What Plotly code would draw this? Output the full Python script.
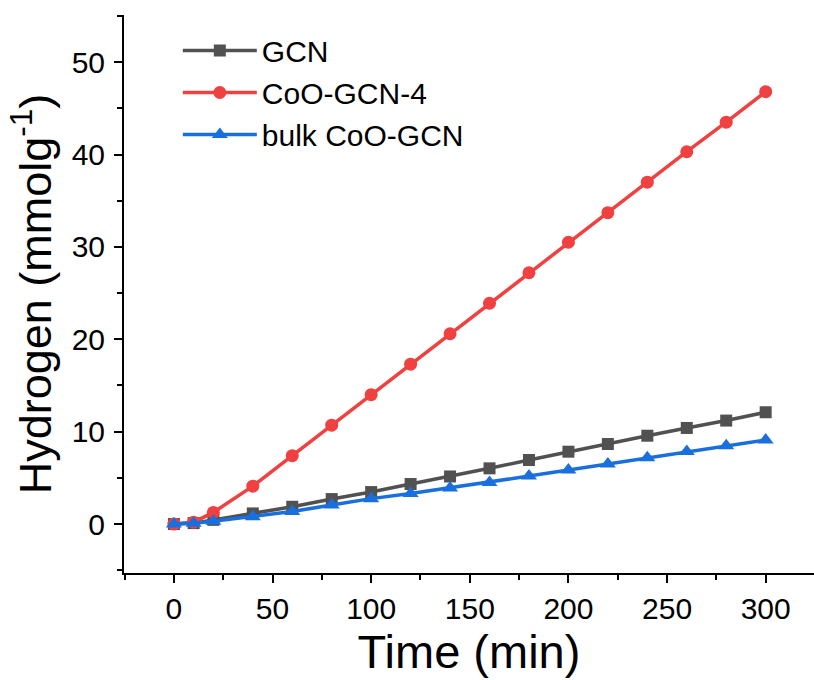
import plotly.graph_objects as go

time_min = [0, 10, 20, 40, 60, 80, 100, 120, 140, 160, 180, 200, 220, 240, 260, 280, 300]
gcn = [0, 0.1, 0.45, 1.15, 1.87, 2.7, 3.46, 4.33, 5.15, 6.03, 6.93, 7.83, 8.66, 9.56, 10.4, 11.2, 12.1]
coo_gcn4 = [0, 0.2, 1.26, 4.1, 7.4, 10.7, 14.0, 17.3, 20.6, 23.9, 27.2, 30.5, 33.7, 37.0, 40.3, 43.5, 46.8]
bulk_coo_gcn = [0, 0.08, 0.3, 0.8, 1.35, 2.05, 2.75, 3.3, 3.9, 4.5, 5.19, 5.84, 6.5, 7.18, 7.85, 8.47, 9.09]

x_ticks = [0, 50, 100, 150, 200, 250, 300]
y_ticks = [0, 10, 20, 30, 40, 50]

series = [
    ("GCN", gcn, "#515151", "square", 12),
    ("CoO-GCN-4", coo_gcn4, "#F14040", "circle", 13),
    ("bulk CoO-GCN", bulk_coo_gcn, "#1A6FDF", "triangle-up", 14),
]

fig = go.Figure()
for name, vals, color, sym, msize in series:
    fig.add_trace(go.Scatter(
        x=time_min, y=vals, name=name, mode="lines+markers",
        line=dict(color=color, width=3.5),
        marker=dict(symbol=sym, size=msize, color=color),
    ))

font_family = "Liberation Sans, Arial, sans-serif"
axis_common = dict(
    showline=True, linecolor="black", linewidth=2,
    ticks="outside", ticklen=8, tickwidth=2, tickcolor="black",
    showgrid=False, zeroline=False,
    tickfont=dict(size=30, color="black", family=font_family),
)

fig.update_layout(
    width=814, height=680,
    margin=dict(l=124, r=0, t=15, b=107),
    plot_bgcolor="white", paper_bgcolor="white",
    font=dict(family=font_family, color="black"),
    xaxis=dict(
        range=[-25.3, 324.5], tickvals=x_ticks,
        minor=dict(dtick=25, tick0=0, ticks="outside", ticklen=5, tickwidth=2, tickcolor="black"),
        title=dict(text="Time (min)", font=dict(size=47, family=font_family), standoff=8),
        **axis_common,
    ),
    yaxis=dict(
        range=[-5.3, 55.1], tickvals=y_ticks, ticklabelstandoff=3,
        minor=dict(dtick=5, tick0=0, ticks="outside", ticklen=5, tickwidth=2, tickcolor="black"),
        title=dict(text="Hydrogen (mmolg<sup>-1</sup>)", font=dict(size=45, family=font_family), standoff=6),
        **axis_common,
    ),
    legend=dict(
        x=0.078, y=0.983, xanchor="left", yanchor="top",
        font=dict(size=30, family=font_family, color="black"),
        bgcolor="rgba(0,0,0,0)", tracegroupgap=0, itemwidth=74,
    ),
    showlegend=True,
)

fig.write_html("out.html")
